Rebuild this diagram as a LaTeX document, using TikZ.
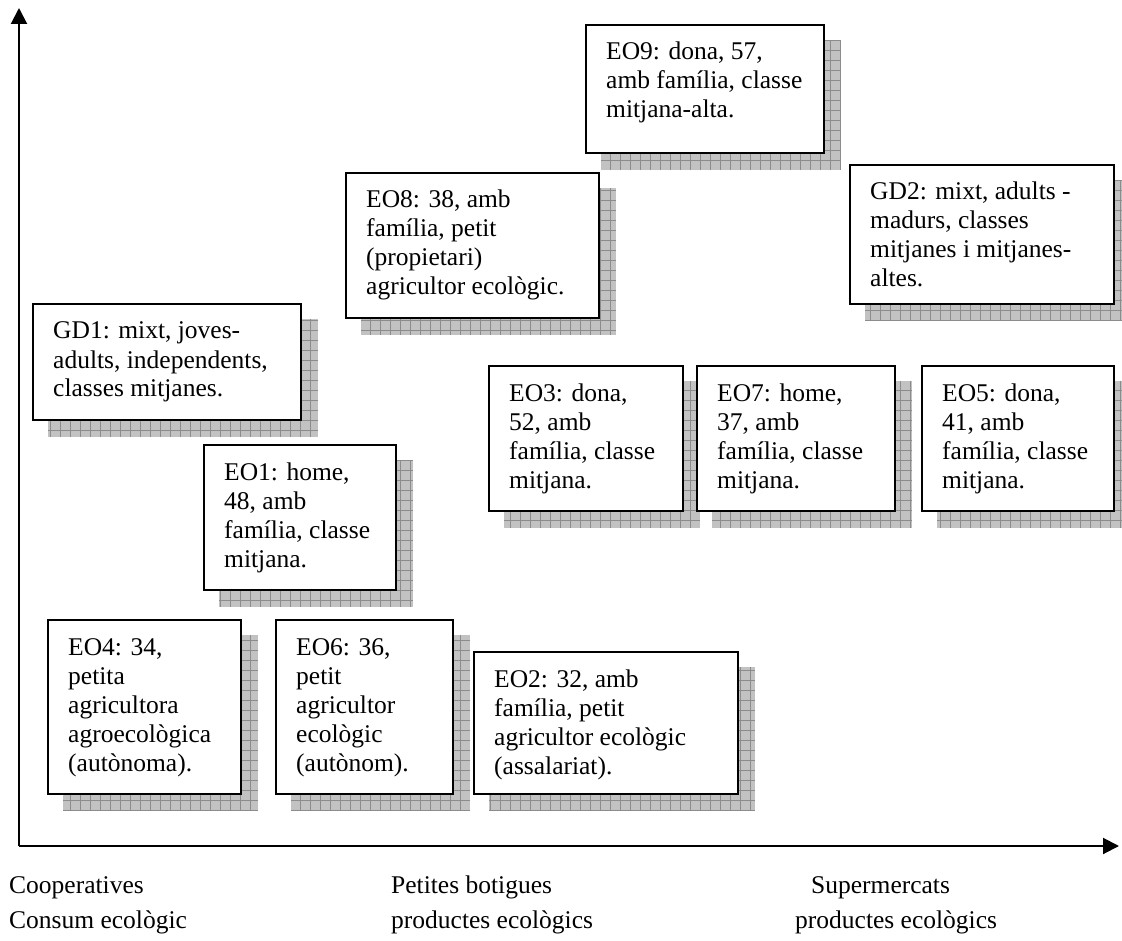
\documentclass[tikz,border=0pt]{standalone}
\usepackage{fontspec}
\setmainfont{Liberation Serif}
\usetikzlibrary{arrows.meta}
\pgfdeclarelayer{background}
\pgfsetlayers{background,main}
\tikzset{
  card/.style={draw=black, line width=1.8pt, fill=white, anchor=north west, inner sep=0pt},
  cardtext/.style={anchor=base west, inner sep=0pt, font=\fontsize{25.5}{29}\selectfont},
  axis/.style={line width=2pt, -{Triangle[length=16pt,width=16pt]}},
  axislabel/.style={anchor=base west, inner sep=0pt, font=\fontsize{25.5}{29}\selectfont},
  shadowfill/.style={fill=black!24},
  shadowgrid/.style={draw=black!45, line width=0.6pt},
}
% \drawcard{name}{x}{y}{width}{height}{lines}
\newcommand\drawcard[6]{%
  \node[card, minimum width=#4pt, minimum height=#5pt] (#1) at (#2,#3) {};
  \node[cardtext] (#1-t) at ([xshift=21pt,yshift=-36pt]#1.north west)
    {\begin{tabular}[t]{@{}l@{}}#6\end{tabular}};
  \begin{pgfonlayer}{background}
    \begin{scope}
      \clip ([xshift=16pt,yshift=-16pt]#1.north west) rectangle ([xshift=16pt,yshift=-16pt]#1.south east);
      \path[shadowfill] ([xshift=16pt,yshift=-16pt]#1.north west) rectangle ([xshift=16pt,yshift=-16pt]#1.south east);
      \path[shadowgrid] ([xshift=16pt,yshift=-16pt]#1.north west) grid[step=10pt] ([xshift=16pt,yshift=-16pt]#1.south east);
    \end{scope}
  \end{pgfonlayer}
}
\begin{document}
\begin{tikzpicture}[x=1pt,y=-1pt]
\useasboundingbox (0,0) rectangle (1122,941);

% axes
\coordinate (origin) at (19,846);
\coordinate (ytip) at (19,8);
\coordinate (xtip) at (1119,846);
\draw[axis] (origin) -- (ytip);
\draw[axis] (origin) -- (xtip);

% profile cards
\drawcard{eo9}{585}{24}{238}{128}{EO9: dona, 57,\\amb família, classe\\mitjana-alta.}
\drawcard{eo8}{345}{172}{253}{145}{EO8: 38, amb\\família, petit\\(propietari)\\agricultor ecològic.}
\drawcard{gd2}{849}{164}{264}{139}{GD2: mixt, adults -\\madurs, classes\\mitjanes i mitjanes-\\altes.}
\drawcard{gd1}{32}{303}{268}{116}{GD1: mixt, joves-\\adults, independents,\\classes mitjanes.}
\drawcard{eo3}{488}{365}{194}{145}{EO3: dona,\\52, amb\\família, classe\\mitjana.}
\drawcard{eo7}{696}{365}{198}{145}{EO7: home,\\37, amb\\família, classe\\mitjana.}
\drawcard{eo5}{921}{365}{192}{145}{EO5: dona,\\41, amb\\família, classe\\mitjana.}
\drawcard{eo1}{203}{444}{192}{145}{EO1: home,\\48, amb\\família, classe\\mitjana.}
\drawcard{eo4}{47}{619}{193}{174}{EO4: 34,\\petita\\agricultora\\agroecològica\\(autònoma).}
\drawcard{eo6}{275}{619}{177}{174}{EO6: 36,\\petit\\agricultor\\ecològic\\(autònom).}
\drawcard{eo2}{473}{651}{264}{142}{EO2: 32, amb\\família, petit\\agricultor ecològic\\(assalariat).}

% axis labels
\node[axislabel] (coop1) at (9,893) {Cooperatives};
\node[axislabel] (coop2) at (9,928) {Consum ecològic};
\node[axislabel] (shop1) at (391,893) {Petites botigues};
\node[axislabel] (shop2) at (391,928) {productes ecològics};
\node[axislabel] (super1) at (811,893) {Supermercats};
\node[axislabel] (super2) at (795,928) {productes ecològics};
\end{tikzpicture}
\end{document}
